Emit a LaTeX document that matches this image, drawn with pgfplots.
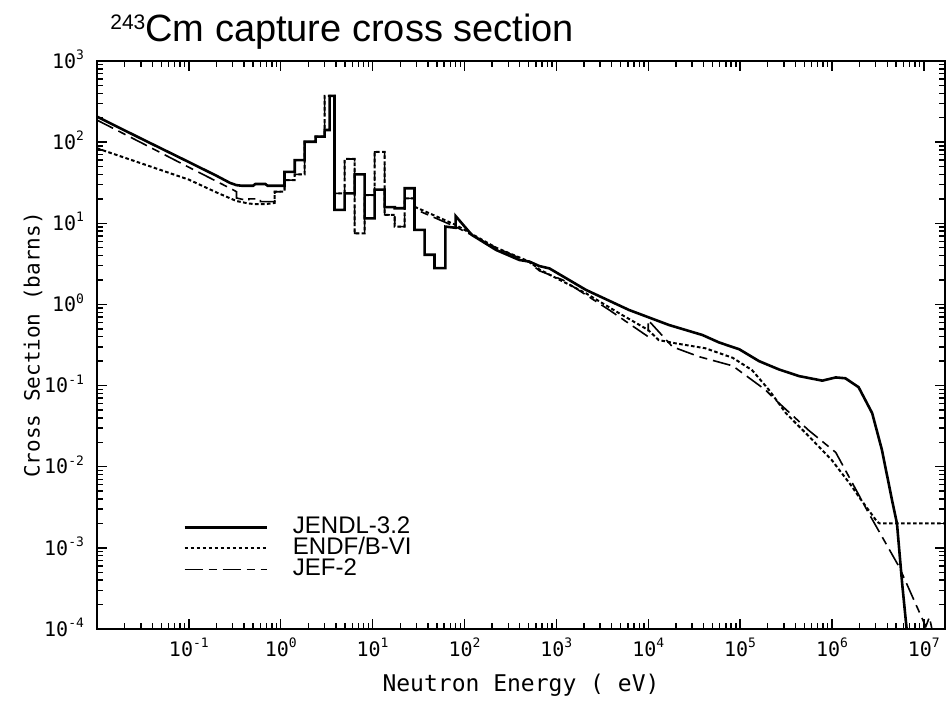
\documentclass[border=0pt]{standalone}
\usepackage{pgfplots}
\pgfplotsset{compat=1.18}
\usepackage{fontspec}
\setmainfont{Liberation Sans}
\newfontfamily\mono{DejaVu Sans Mono}
\newcommand{\tp}[1]{10\raisebox{4.3pt}{\fontsize{6.5}{7}\selectfont #1}}
\begin{document}
\begin{tikzpicture}
\begin{axis}[
  name=ax, xmode=log, ymode=log, scale only axis, width=424pt, height=284pt,
  xmin=1e-2, xmax=1.7e7, ymin=1e-4, ymax=1e3,
  axis line style={line width=1pt},
  tick style={line width=0.7pt, black},
  major tick length=5pt, minor tick length=3pt,
  xtick={1e-1,1e0,1e1,1e2,1e3,1e4,1e5,1e6,1e7},
  xticklabels={\tp{-1},\tp{0},\tp{1},\tp{2},\tp{3},\tp{4},\tp{5},\tp{6},\tp{7}},
  ytick={1e-4,1e-3,1e-2,1e-1,1e0,1e1,1e2,1e3},
  yticklabels={\tp{-4},\tp{-3},\tp{-2},\tp{-1},\tp{0},\tp{1},\tp{2},\tp{3}},
  minor xtick={2e-2,3e-2,4e-2,5e-2,6e-2,7e-2,8e-2,9e-2,
    2e-1,3e-1,4e-1,5e-1,6e-1,7e-1,8e-1,9e-1,
    2,3,4,5,6,7,8,9,20,30,40,50,60,70,80,90,
    200,300,400,500,600,700,800,900,
    2e3,3e3,4e3,5e3,6e3,7e3,8e3,9e3,
    2e4,3e4,4e4,5e4,6e4,7e4,8e4,9e4,
    2e5,3e5,4e5,5e5,6e5,7e5,8e5,9e5,
    2e6,3e6,4e6,5e6,6e6,7e6,8e6,9e6},
  minor ytick={2e-4,3e-4,4e-4,5e-4,6e-4,7e-4,8e-4,9e-4,
    2e-3,3e-3,4e-3,5e-3,6e-3,7e-3,8e-3,9e-3,
    2e-2,3e-2,4e-2,5e-2,6e-2,7e-2,8e-2,9e-2,
    2e-1,3e-1,4e-1,5e-1,6e-1,7e-1,8e-1,9e-1,
    2,3,4,5,6,7,8,9,20,30,40,50,60,70,80,90,
    200,300,400,500,600,700,800,900},
  ticklabel style={font=\mono\fontsize{10}{11}\selectfont},
  xticklabel style={yshift=-1pt},
  yticklabel style={anchor=base east, yshift=-3.6pt, xshift=-3pt},
  every axis title shift=0pt,
  title={\raisebox{6.1pt}{\fontsize{10.5}{11}\selectfont 243}Cm capture cross section},
  title style={at={(axis description cs:0,1)}, anchor=base west, xshift=6.5pt, yshift=9.5pt, inner sep=0pt, font=\fontsize{19}{20}\selectfont},
  xlabel={Neutron Energy ( eV)},
  xlabel style={at={(axis description cs:0.5,-0.1109)}, anchor=base, font=\mono\fontsize{11.5}{12}\selectfont},
  ylabel={Cross Section (barns)},
  ylabel style={at={(axis description cs:-0.0755,0.5)}, anchor=center, font=\mono\fontsize{10.5}{11}\selectfont},
  legend style={at={(axis description cs:0.1014,0.198)}, anchor=north west, draw=none, fill=none,
    inner sep=0pt, font=\fontsize{12}{12}\selectfont, row sep=0pt,
    nodes={inner sep=0pt, text height=8.5pt, text depth=2pt},
    /tikz/every odd column/.append style={column sep=12.5pt}},
  legend cell align=left,
  legend image code/.code={\draw[#1] (0pt,0pt) -- (41pt,0pt);},
]
\addplot[black, line width=1.3pt] coordinates {
(0.01,206) (0.03,111) (0.1,56.8) (0.2,38.5) (0.28,31.5) (0.33,29.5) (0.38,29) (0.5,29)
(0.53,30.5) (0.68,30.5) (0.72,29) (1.10,29) (1.10,43) (1.42,43) (1.42,60) (1.82,60)
(1.82,101) (2.4,101) (2.4,117) (3.0,117) (3.0,141) (3.4,141) (3.4,371) (3.85,371)
(3.85,14.6) (4.96,14.6) (4.96,23.4) (6.37,23.4) (6.37,40) (8.2,40) (8.2,11.5) (10.5,11.5)
(10.5,26) (13.5,26) (13.5,15.8) (17.4,15.8) (17.4,15.3) (22.3,15.3) (22.3,27) (28.6,27)
(28.6,8.3) (36.8,8.3) (36.8,4.1) (47.2,4.1) (47.2,2.8) (62,2.8) (62,9.1) (80,8.8)
(80,12.3) (120,7.2) (221,4.69) (396,3.53) (509,3.37) (653,2.97) (840,2.78) (2100,1.51)
(6200,0.853) (16900,0.557) (38900,0.42) (59000,0.34) (98000,0.28) (161000,0.2)
(265000,0.158) (436000,0.131) (785000,0.115) (1.1e6,0.126) (1.4e6,0.123) (1.95e6,0.0955)
(2.74e6,0.0457) (3.5e6,0.0161) (4.5e6,0.0039) (5.1e6,0.002) (5.8e6,3.7e-4) (6.5e6,1e-4) (7e6,5e-5)
};
\addlegendentry{JENDL-3.2}
\addplot[black, line width=1pt, dash pattern=on 1.8pt off 1.2pt] coordinates {
(0.01,84) (0.03,55) (0.1,34.5) (0.2,24) (0.33,18.8) (0.45,17.5) (0.55,17.2) (0.7,17.3)
(0.86,17.8) (0.86,24.5) (1.10,24.5) (1.10,34) (1.42,34) (1.42,40) (1.82,40)
(1.82,101) (2.4,101) (2.4,117) (3.0,117) (3.0,371) (3.85,371) (3.85,23.4) (4.96,23.4)
(4.96,62) (6.37,62) (6.37,7.5) (8.2,7.5) (8.2,22.3) (10.5,22.3) (10.5,76) (13.5,76)
(13.5,12.7) (17.4,12.7) (17.4,9.1) (22.3,9.1) (22.3,20.3) (28.6,20.3)
(28.6,16) (81,9.5) (221,5.0) (509,3.37) (653,2.7) (2100,1.37) (4840,0.777) (1e4,0.484)
(1.3e4,0.364) (2e4,0.331) (4.2e4,0.288) (8.3e4,0.22) (1.35e5,0.155) (2.07e5,0.088)
(3.15e5,0.0457) (5.65e5,0.0235) (1e6,0.012) (1.65e6,0.0057) (1.95e6,0.0043)
(3.1e6,0.0021) (3.3e6,0.002) (2e7,0.002)
};
\addlegendentry{ENDF/B-VI}
\addplot[black, line width=0.8pt, dash pattern=on 9pt off 3pt on 4pt off 3pt] coordinates {
(0.01,187) (0.03,99) (0.1,49) (0.2,32.9) (0.3,26) (0.33,24.5) (0.33,20.5) (0.4,19.5)
(0.45,19) (0.45,20) (0.6,20) (0.6,18.5) (0.86,18.5) (0.86,24.5) (1.10,24.5) (1.10,34)
(1.42,34) (1.42,40) (1.82,40) (1.82,101) (2.4,101) (2.4,117) (3.0,117) (3.0,371)
(3.85,371) (3.85,23.4) (4.96,23.4) (4.96,62) (6.37,62) (6.37,7.5) (8.2,7.5) (8.2,22.3)
(10.5,22.3) (10.5,76) (13.5,76) (13.5,12.7) (17.4,12.7) (17.4,9.1) (22.3,9.1)
(22.3,20.3) (28.6,20.3) (28.6,15) (81,9.0) (221,5.0) (509,3.3) (653,2.6) (1180,2.0)
(3770,0.853) (10000,0.40) (10000,0.64) (18400,0.30) (35800,0.227) (83000,0.175)
(1.9e5,0.088) (2.45e5,0.066) (5.6e5,0.028) (1.1e6,0.015) (2.5e6,0.0027) (5.4e6,5.8e-4)
(1.05e7,1.07e-4) (1.15e7,1.4e-4) (1.35e7,6e-5)
};
\addlegendentry{JEF-2}
\end{axis}
\pgfresetboundingbox
\path ([xshift=-48.5pt,yshift=-38.5pt]ax.south west) rectangle ([xshift=1.5pt,yshift=30.5pt]ax.north east);
\end{tikzpicture}
\end{document}
